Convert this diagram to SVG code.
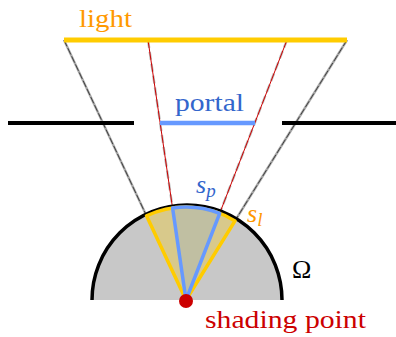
<svg xmlns="http://www.w3.org/2000/svg" width="396" height="337" viewBox="0 0 396 337">
<style>
.ray{stroke:#aaa;stroke-width:2.4;fill:none}
.rayc{stroke:#333;stroke-width:0.9;stroke-dasharray:7 2;fill:none}
.rray{stroke:#bbb;stroke-width:2.4;stroke-dasharray:8 4;fill:none}
.rrayc{stroke:#cc0000;stroke-width:1;fill:none}
</style>
<rect width="396" height="337" fill="#fff"/>
<g id="connectors">
<line class="ray" x1="64" y1="40" x2="186" y2="300"/>
<line class="rayc" x1="64" y1="40" x2="186" y2="300"/>
<line class="ray" x1="347" y1="40" x2="186" y2="300"/>
<line class="rayc" x1="347" y1="40" x2="186" y2="300"/>
<line class="rray" x1="148" y1="40" x2="186" y2="300"/>
<line class="rrayc" x1="148" y1="40" x2="186" y2="300"/>
<line class="rray" x1="287" y1="40" x2="186" y2="300"/>
<line class="rrayc" x1="287" y1="40" x2="186" y2="300"/>
</g>
<g font-family="Liberation Serif, DejaVu Serif, serif" font-size="26">
<g id="light">
<line x1="64" y1="40" x2="347" y2="40" stroke="#ffcc00" stroke-width="5"/>
<text x="79" y="27" fill="#ff9900" textLength="53" lengthAdjust="spacingAndGlyphs">light</text>
</g>
<g id="walls">
<line x1="8" y1="123" x2="134" y2="123" stroke="#000" stroke-width="4"/>
<line x1="282" y1="123" x2="396" y2="123" stroke="#000" stroke-width="4"/>
</g>
<g id="portal">
<line x1="160" y1="123" x2="255" y2="123" stroke="#6699ff" stroke-width="4.5"/>
<text x="175" y="111" fill="#3366cc" textLength="69" lengthAdjust="spacingAndGlyphs">portal</text>
</g>
<g id="hemisphere">
<path d="M92,300 A95,95 0 0 1 282,300" fill="#c8c8c8" stroke="#000" stroke-width="3.5"/>
<text x="292" y="278" fill="#000">Ω</text>
</g>
<g id="sector-light">
<path d="M186,300 L146.5,215.8 A93,93 0 0 1 235,220.9 Z" fill="#ffcc00" fill-opacity="0.3" stroke="#ffcc00" stroke-width="3.5" stroke-linejoin="round"/>
<text x="247" y="222" fill="#ff9900" font-style="italic">s<tspan font-size="19" dy="4">l</tspan></text>
</g>
<g id="sector-portal">
<path d="M186,300 L172.6,208 A93,93 0 0 1 219.7,213.3 Z" fill="#6699ff" fill-opacity="0.2" stroke="#6699ff" stroke-width="3.5" stroke-linejoin="round"/>
<text x="196" y="193" fill="#3366cc" font-style="italic">s<tspan font-size="19" dy="4">p</tspan></text>
</g>
<g id="shading-point">
<circle cx="186" cy="301" r="7" fill="#cc0000"/>
<text x="205" y="328" fill="#cc0000" textLength="161" lengthAdjust="spacingAndGlyphs">shading point</text>
</g>
</g>
</svg>
